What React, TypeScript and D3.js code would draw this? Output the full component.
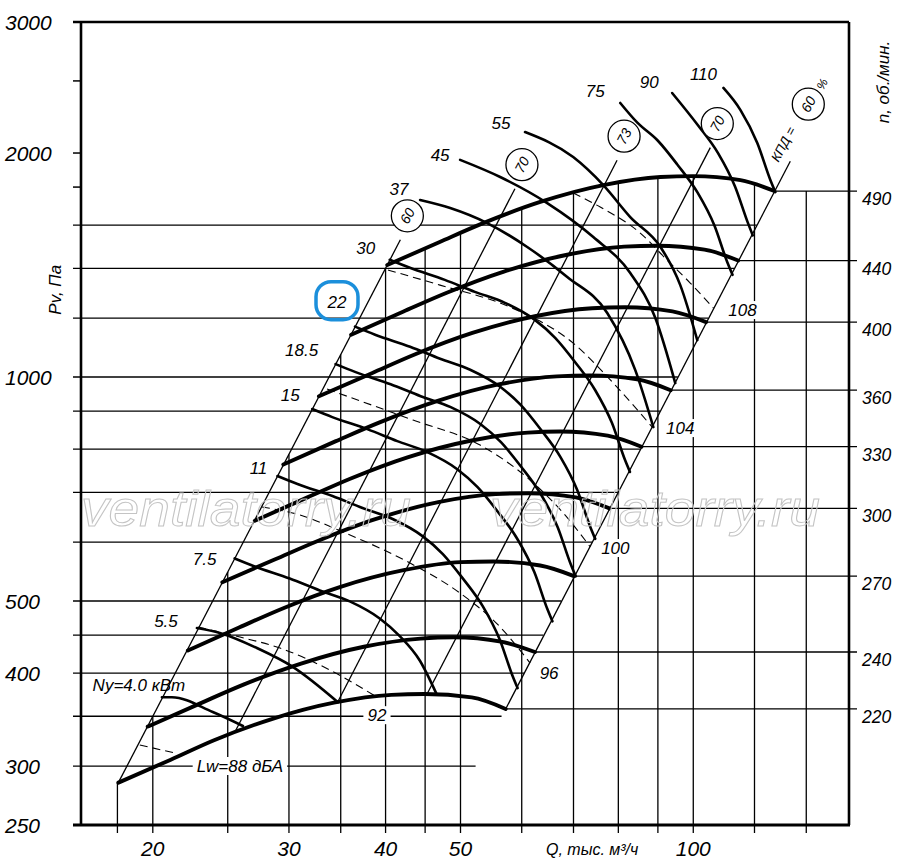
import * as d3 from 'd3';

// axis ranges
const Q_MIN = 16.15;
const Q_MAX = 159;
const P_MIN = 250;
const P_MAX = 3000;

const qTickLabels = [20, 30, 40, 50, 100];
const pTickLabels = [3000, 2000, 1000, 500, 400, 300, 250];
const pShortTicks = [2500, 2000, 1800];

// vertical grid lines: Q and the pressure where each one stops
const gridQ = [18, 20, 25, 30, 35, 40, 45, 50, 60, 70, 80, 90, 100, 120, 140];
const gridQTop = [285, 350, 547, 787, 1072, 1400, 1490, 1560, 1680, 1765, 1820, 1852, 1860, 1825, 1778];

// horizontal grid lines: P and the Q where each one stops
const gridP = [1600, 1400, 1200, 1000, 900, 800, 700, 600, 500, 450, 400, 350, 300];
const gridPEnd = [120.8, 113.0, 104.6, 95.5, 90.6, 85.4, 79.9, 74.0, 67.5, 64.0, 60.4, 56.5, 52.3];

// fan curves, n rpm
const speeds = [490, 440, 400, 360, 330, 300, 270, 240, 220];
const speedQ = [
  [40.2, 47.0, 53.5, 63.4, 76.5, 90.7, 100, 115.1, 127.3],
  [36.1, 42.2, 48.0, 56.9, 68.7, 81.4, 89.8, 103.4, 114.3],
  [32.8, 38.4, 43.7, 51.8, 62.4, 74.0, 81.6, 94.0, 103.9],
  [29.5, 34.5, 39.3, 46.6, 56.2, 66.6, 73.5, 84.6, 93.5],
  [27.1, 31.7, 36.0, 42.7, 51.5, 61.1, 67.3, 77.5, 85.7],
  [24.6, 28.8, 32.8, 38.8, 46.8, 55.5, 61.2, 70.5, 77.9],
  [22.2, 25.9, 29.5, 34.9, 42.2, 50.0, 55.1, 63.4, 70.1],
  [19.7, 23.0, 26.2, 31.1, 37.5, 44.4, 49.0, 56.4, 62.4],
  [18.05, 21.1, 24.0, 28.5, 34.3, 40.7, 44.9, 51.7, 57.2],
];
const speedP = [
  [1414, 1519, 1610, 1719, 1811, 1857, 1862, 1839, 1778],
  [1140, 1225, 1298, 1386, 1460, 1497, 1501, 1483, 1434],
  [942, 1012, 1073, 1146, 1207, 1237, 1241, 1225, 1185],
  [763, 820, 869, 928, 978, 1002, 1005, 993, 960],
  [641, 689, 730, 780, 821, 842, 845, 834, 806],
  [530, 569, 603, 644, 679, 696, 698, 689, 666],
  [429, 461, 489, 522, 550, 564, 565, 558, 540],
  [339, 364, 386, 412, 434, 445, 447, 441, 427],
  [285, 306, 325, 347, 365, 374, 375, 371, 358],
];

// shaft power curves, kW
const powers = ['4.0', '5.5', '7.5', '11', '15', '18.5', '22', '30', '37', '45', '55', '75', '90', '110'];
const powerQ = [
  [20.55, 21.17, 23.91, 26.16],
  [22.81, 24.42, 27.27, 30.37, 34.71],
  [25.52, 27.09, 30.07, 32.88, 35.96, 39.31, 41.76, 44.29, 46.5],
  [28.99, 30.77, 34.15, 37.35, 40.85, 44.65, 47.44, 50.31, 53.42, 56.16, 58.39, 59.27],
  [32.15, 34.13, 37.88, 41.42, 45.3, 49.52, 52.61, 55.81, 59.25, 62.29, 64.76, 65.74],
  [34.47, 36.59, 40.61, 44.41, 48.57, 53.09, 56.4, 59.83, 63.52, 66.78, 69.43, 70.48],
  [36.52, 38.77, 43.03, 47.05, 51.46, 56.26, 59.77, 63.39, 67.31, 70.76, 73.57, 74.68],
  [40.5, 43.0, 47.72, 52.18, 57.07, 62.39, 66.28, 70.31, 74.65, 78.48, 81.59, 82.82],
  [44.33, 48.49, 54.13, 60.99, 68.71, 77.4, 84.14, 88.79],
  [49.94, 56.27, 64.73, 74.25, 82.89, 89.32, 94.78],
  [60.6, 69.94, 76.5, 82.89, 90.7, 96.2, 101.2],
  [80.46, 84.66, 89.94, 95.4, 101.3, 106.5, 110.7, 112.4],
  [93.9, 101.4, 107.7, 113.2, 117.7, 119.4],
  [109.4, 115.1, 121.0, 125.8, 127.7],
];
const powerP = [
  [371.3, 371.3, 354.6, 339.6],
  [459.9, 452.9, 432.3, 407.6, 365.6],
  [570.5, 556.5, 536.1, 516.6, 499.4, 473.7, 448.2, 415.9, 376],
  [736.2, 718.1, 691.8, 666.6, 644.4, 611.2, 578.2, 536.7, 492.1, 444.5, 396.4, 381.8],
  [905.6, 883.3, 851.0, 820.0, 792.7, 751.9, 711.3, 660.2, 605.3, 546.8, 487.7, 469.6],
  [1040.8, 1015.2, 978.0, 942.4, 911.0, 864.1, 817.5, 758.7, 695.7, 628.4, 560.4, 539.7],
  [1168.6, 1139.9, 1098.2, 1058.1, 1022.9, 970.3, 917.9, 851.9, 781.1, 705.5, 629.3, 606.0],
  [1437.3, 1402.0, 1350.7, 1301.5, 1258.1, 1193.4, 1129.0, 1047.8, 960.7, 867.8, 774.0, 745.4],
  [1729.6, 1687, 1610.4, 1495.5, 1362.9, 1219.2, 1021.7, 856.5],
  [1958, 1857, 1713, 1542, 1379.6, 1200.5, 981.4],
  [2134, 1975, 1811, 1640.5, 1495.5, 1329, 1121],
  [2335, 2197, 2079, 1929, 1769, 1598, 1425, 1372],
  [2408, 2179, 1998, 1805, 1610, 1550],
  [2446, 2284, 2063, 1840, 1772],
];

// sound power level lines Lw, dBA (dashed)
const noise = ['88', '92', '96', '100', '104', '108'];
const noiseQ = [
  [19.24, 21.36],
  [22.88, 25.93, 29.21, 33.9, 38.99],
  [27.68, 31.0, 35.24, 43.02, 49.94, 56.27, 61.52],
  [33.6, 43.4, 53.0, 61.5, 67.9, 73.6],
  [40.29, 47.04, 57.96, 69.94, 78.79, 88.5],
  [69.94, 75.8, 85.4, 92.5, 99.1, 106.2],
];
const noiseP = [
  [320.2, 312.4],
  [461.3, 447.2, 432.3, 403.8, 371.3],
  [668.8, 652.5, 618.9, 562.3, 512.3, 461.3, 412.6],
  [963.4, 875.4, 810.1, 727.0, 656.4, 590.9],
  [1392.5, 1329, 1241.6, 1110.4, 981.5, 856.5],
  [1767, 1692, 1561, 1436, 1337.6, 1237.9],
];

// efficiency rays, %
const efficiency = ['60', '70', '73', '70', '60'];
const effQ = [[18.05, 41.8], [25.6, 58.8], [34.7, 79.7], [45.26, 105.2], [57.2, 133.5]];
const effP = [[285, 1529], [335, 1791], [366, 1956], [375, 2034], [358, 1950]];

// label placement (pixels, relative to the start / end of a curve)
const powerLabelShift: Record<string, [number, number]> = {
  '4.0': [-23, -6], '5.5': [-31, -1], '7.5': [-30, 7], '11': [-19, -2], '15': [-22, -8],
  '18.5': [-34, -8], '22': [-18, -19], '30': [-24, -6], '37': [-21, -5], '45': [-20, 1],
  '55': [-24, -3], '75': [-25, -6], '90': [-23, -5], '110': [-20, -8],
};
const noiseLabelShift: Record<string, [number, number]> = {
  '88': [65, 13], '92': [0, 18], '96': [19, 10], '100': [25, 1], '104': [28, 1], '108': [29, 2],
};

const FONT = "'Liberation Sans', Arial, sans-serif";

const zip = (qs: number[], ps: number[]) => qs.map((q, i) => [q, ps[i]] as [number, number]);

export default function App() {
  const width = 900;
  const height = 867;

  const x = d3.scaleLog().domain([Q_MIN, Q_MAX]).range([81, 849]);
  const y = d3.scaleLog().domain([P_MIN, P_MAX]).range([825, 22]);

  const smooth = d3.line<[number, number]>()
    .x((d) => x(d[0]))
    .y((d) => y(d[1]))
    .curve(d3.curveMonotoneX);
  const straight = d3.line<[number, number]>()
    .x((d) => x(d[0]))
    .y((d) => y(d[1]));

  const left = x(Q_MIN);
  const right = x(Q_MAX);
  const top = y(P_MAX);
  const bottom = y(P_MIN);

  const txt = { fontFamily: FONT, fontStyle: 'italic' as const };

  return (
    <div style={{ position: 'absolute', left: 0, top: 0 }}>
      <svg width={width} height={height} viewBox={`0 0 ${width} ${height}`} style={{ display: 'block', background: '#fff' }}>
        {/* vertical grid */}
        {gridQ.map((q, i) => (
          <line key={`vq${q}`} x1={x(q)} x2={x(q)} y1={bottom + 8} y2={y(gridQTop[i])} stroke="#000" strokeWidth={1.3} />
        ))}
        {/* horizontal grid */}
        {gridP.map((p, i) => (
          <line key={`hp${p}`} x1={left - 8} x2={x(gridPEnd[i])} y1={y(p)} y2={y(p)} stroke="#000" strokeWidth={1.3} />
        ))}
        {pShortTicks.map((p) => (
          <line key={`tk${p}`} x1={left - 8} x2={left} y1={y(p)} y2={y(p)} stroke="#000" strokeWidth={1.5} />
        ))}
        {/* speed lines to the right axis */}
        {speeds.map((n, i) => {
          const q = speedQ[i][speedQ[i].length - 1];
          const p = speedP[i][speedP[i].length - 1];
          return <line key={`rn${n}`} x1={x(q)} x2={right + 8} y1={y(p)} y2={y(p)} stroke="#000" strokeWidth={1.3} />;
        })}

        {/* efficiency rays */}
        {efficiency.map((e, i) => (
          <path key={`ef${i}`} d={straight(zip(effQ[i], effP[i])) || ''} fill="none" stroke="#000" strokeWidth={1.3} />
        ))}

        {/* noise lines */}
        {noise.map((l, i) => (
          <path key={`nz${l}`} d={smooth(zip(noiseQ[i], noiseP[i])) || ''} fill="none" stroke="#000" strokeWidth={1.1} strokeDasharray="8 5" />
        ))}

        {/* power curves */}
        {powers.map((pw, i) => (
          <path key={`pw${pw}`} d={smooth(zip(powerQ[i], powerP[i])) || ''} fill="none" stroke="#000" strokeWidth={2.6} strokeLinecap="round" />
        ))}

        {/* fan speed curves */}
        {speeds.map((n, i) => (
          <path key={`sp${n}`} d={smooth(zip(speedQ[i], speedP[i])) || ''} fill="none" stroke="#000" strokeWidth={3.9} strokeLinecap="round" />
        ))}

        {/* watermark */}
        {[Q_MIN, 54.6].map((q, i) => (
          <text key={`wm${i}`} x={x(q)} y={y(630)} {...txt} fontSize={50} textLength={330} lengthAdjust="spacingAndGlyphs" fill="none" stroke="#c4c4c4" strokeWidth={1}>
            ventilatorry.ru
          </text>
        ))}

        {/* power labels */}
        {powers.map((pw, i) => {
          const sx = x(powerQ[i][0]);
          const sy = y(powerP[i][0]);
          const [dx, dy] = powerLabelShift[pw];
          return (
            <text key={`pl${pw}`} x={sx + dx} y={sy + dy} {...txt} fontSize={17} textAnchor="middle">
              {pw === '4.0' ? 'Ny=4.0 кВт' : pw}
            </text>
          );
        })}
        {(() => {
          const i = powers.indexOf('22');
          const [dx, dy] = powerLabelShift['22'];
          const cx = x(powerQ[i][0]) + dx;
          const cy = y(powerP[i][0]) + dy - 7;
          return <rect x={cx - 21} y={cy - 19} width={42} height={38} rx={15} fill="none" stroke="#1b8fdb" strokeWidth={3.5} />;
        })()}

        {/* noise labels */}
        {noise.map((l, i) => {
          const n = noiseQ[i].length - 1;
          const ex = x(noiseQ[i][n]);
          const ey = y(noiseP[i][n]);
          const [dx, dy] = noiseLabelShift[l];
          const label = l === '88' ? 'Lw=88 дБА' : l;
          const w = label.length * 9.6 + 8;
          return (
            <g key={`nl${l}`}>
              <rect x={ex + dx - w / 2} y={ey + dy - 9} width={w} height={18} fill="#fff" />
              <text x={ex + dx} y={ey + dy + 6} {...txt} fontSize={17} textAnchor="middle">{label}</text>
            </g>
          );
        })}

        {/* efficiency circles */}
        {efficiency.map((e, i) => {
          const tx = x(effQ[i][1]);
          const ty = y(effP[i][1]);
          const last = i === efficiency.length - 1;
          const cx = tx + (last ? 18 : 7);
          const cy = ty + (last ? -57 : -24);
          return (
            <g key={`ec${i}`}>
              <circle cx={cx} cy={cy} r={16} fill="#fff" stroke="#000" strokeWidth={1.3} />
              <text x={cx} y={cy} {...txt} fontSize={14} textAnchor="middle" dominantBaseline="central" transform={`rotate(-62 ${cx} ${cy})`}>
                {e}
              </text>
              {last && (
                <>
                  <text x={tx - 7} y={ty - 17} {...txt} fontSize={13} textAnchor="middle" dominantBaseline="central" transform={`rotate(-62 ${tx - 7} ${ty - 17})`}>
                    КПД =
                  </text>
                  <text x={cx + 14} y={cy - 20} {...txt} fontSize={12} textAnchor="middle" dominantBaseline="central" transform={`rotate(-62 ${cx + 14} ${cy - 20})`}>
                    %
                  </text>
                </>
              )}
            </g>
          );
        })}

        {/* frame */}
        <line x1={left - 8} x2={right} y1={top} y2={top} stroke="#000" strokeWidth={2.6} />
        <line x1={left} x2={left} y1={top} y2={bottom} stroke="#000" strokeWidth={2.6} />
        <line x1={right} x2={right} y1={top} y2={bottom} stroke="#000" strokeWidth={2.6} />
        <line x1={left - 8} x2={right + 1} y1={bottom} y2={bottom} stroke="#000" strokeWidth={3} />

        {/* left axis labels */}
        {pTickLabels.map((p) => (
          <text key={`pl${p}`} x={5} y={y(p)} {...txt} fontSize={21} dominantBaseline="central">{p}</text>
        ))}
        <text x={0} y={0} {...txt} fontSize={17} textAnchor="middle" dominantBaseline="central" transform={`translate(55, ${y(1310)}) rotate(-90)`}>
          Pv, Па
        </text>

        {/* bottom axis labels */}
        {qTickLabels.map((q) => (
          <text key={`ql${q}`} x={x(q)} y={bottom + 23} {...txt} fontSize={21} textAnchor="middle" dominantBaseline="central">{q}</text>
        ))}
        <text x={x(74)} y={bottom + 24} {...txt} fontSize={16} textAnchor="middle" dominantBaseline="central">
          Q, тыс. м³/ч
        </text>

        {/* right axis labels */}
        {speeds.map((n, i) => {
          const p = speedP[i][speedP[i].length - 1];
          return (
            <text key={`rl${n}`} x={right + 13} y={y(p) + 14} {...txt} fontSize={17.5}>{n}</text>
          );
        })}
        <text x={0} y={0} {...txt} fontSize={17} textAnchor="middle" dominantBaseline="central" transform={`translate(883, 82) rotate(-90)`}>
          n, об./мин.
        </text>
      </svg>
    </div>
  );
}
